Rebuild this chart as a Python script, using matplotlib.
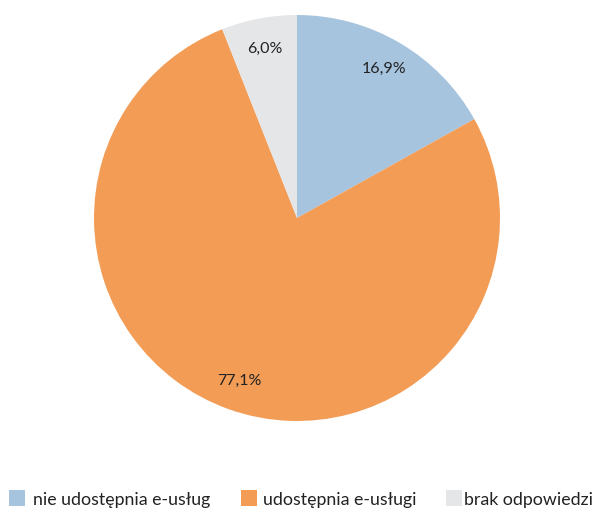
import matplotlib
matplotlib.use("Agg")
import matplotlib.pyplot as plt
from matplotlib.patches import Rectangle

categories = ["nie udostępnia e-usług", "udostępnia e-usługi", "brak odpowiedzi"]
values = [16.9, 77.1, 6.0]
colors = ["#A7C4DE", "#F39C56", "#E5E6E8"]

plt.rcParams['font.family'] = ['Lato', 'DejaVu Sans']

W, H = 592, 509
fig = plt.figure(figsize=(W/100, H/100), dpi=100)
ax = fig.add_axes([94/W, 1-421/H, 406/W, 406/H])
wedges, texts, autotexts = ax.pie(
    values, colors=colors, startangle=90, counterclock=False, radius=1,
    autopct=lambda p: f"{p:.1f}".replace(".", ",") + "%", pctdistance=0.85,
    textprops=dict(fontsize=11.5, color="#222222"))
ax.set_xlim(-1, 1)
ax.set_ylim(-1, 1)

# legend drawn manually in figure pixel coordinates
sq_x = [9, 241, 446]
tx_x = [33, 263, 464]
for c, lab, sx, tx in zip(colors, categories, sq_x, tx_x):
    fig.patches.append(Rectangle((sx/W, 1-506/H), 16/W, 16/H, transform=fig.transFigure,
                                 facecolor=c, edgecolor="none"))
    fig.text(tx/W, 1-505/H, lab, fontsize=12.8, color="#222222", ha="left", va="baseline")
fig.savefig("out.png", dpi=100)
